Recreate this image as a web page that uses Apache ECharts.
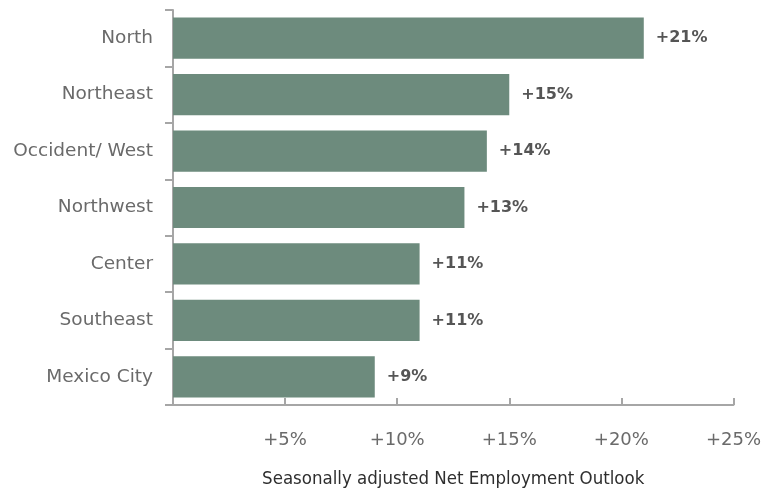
<!DOCTYPE html>
<html>
<head>
<meta charset="utf-8">
<script src="https://cdn.jsdelivr.net/npm/echarts@6/dist/echarts.min.js"></script>
<style>html,body{margin:0;padding:0;background:#fff}#c{width:764px;height:495px}</style>
</head>
<body>
<div id="c"></div>
<script>
const categories = ["North", "Northeast", "Occident/ West", "Northwest", "Center", "Southeast", "Mexico City"];
const values = [21, 15, 14, 13, 11, 11, 9];
const xTicks = [0, 5, 10, 15, 20, 25];
const axisTitle = "Seasonally adjusted Net Employment Outlook";

const chart = echarts.init(document.getElementById('c'));
chart.setOption({
  animation: false,
  grid: { left: 173, right: 30, top: 10, bottom: 90 },
  xAxis: {
    type: 'value', min: 0, max: 25, interval: 5,
    name: axisTitle, nameLocation: 'middle', nameGap: 65,
    nameTextStyle: { fontFamily: 'DejaVu Sans Condensed', fontSize: 18.5, color: '#2e2e2e' },
    axisLine: { show: true, lineStyle: { color: '#a6a6a6', width: 2 } },
    axisTick: { show: true, inside: true, length: 7, lineStyle: { color: '#a6a6a6', width: 2 } },
    axisLabel: { margin: 26, fontFamily: 'DejaVu Sans', fontSize: 18, color: '#6a6a6a',
      formatter: v => v === 0 ? '' : '+' + v + '%' },
    splitLine: { show: false }
  },
  yAxis: {
    type: 'category', data: categories, inverse: true,
    axisLine: { show: true, lineStyle: { color: '#a6a6a6', width: 2 } },
    axisTick: { show: true, length: 8, lineStyle: { color: '#a6a6a6', width: 2 } },
    axisLabel: { margin: 20, fontFamily: 'DejaVu Sans', fontSize: 18.5, color: '#6a6a6a' }
  },
  series: [{
    type: 'bar', data: values, barCategoryGap: '27%',
    itemStyle: { color: '#6d8b7d' },
    label: { show: true, position: 'right', distance: 12, formatter: p => '+' + p.value + '%',
      fontFamily: 'DejaVu Sans', fontWeight: 'bold', fontSize: 16, color: '#555' }
  }]
});
</script>
</body>
</html>
